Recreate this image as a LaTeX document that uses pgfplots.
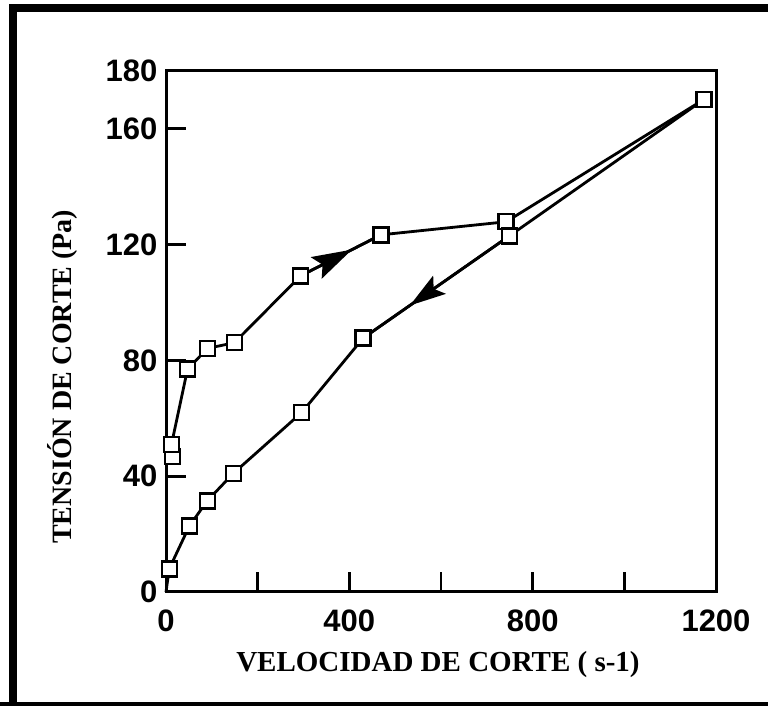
\documentclass[border=0pt]{standalone}
\usepackage{fontspec}
\setmainfont{Liberation Serif}
\newfontfamily\tickfont{Liberation Sans}
\usepackage{pgfplots}
\pgfplotsset{compat=1.18}
\usetikzlibrary{arrows.meta,decorations.markings}
\begin{document}
\begin{tikzpicture}
\begin{axis}[
  at={(166pt,114pt)}, anchor=south west,
  scale only axis, width=550pt, height=521pt,
  xmin=0, xmax=1200, ymin=0, ymax=180,
  axis line style={line width=3pt},
  every tick/.style={black, line width=2.8pt},
  major tick length=20pt,
  tick align=inside,
  xtick pos=bottom, ytick pos=left,
  xtick={0,200,...,1200},
  xticklabels={0,,400,,800,,1200},
  ytick={0,40,80,120,160,180},
  /pgf/number format/assume math mode=true,
  tick label style={font=\tickfont\bfseries\fontsize{31}{33}\selectfont},
  xticklabel style={yshift=-14pt},
  yticklabel style={xshift=-5pt},
  xlabel={VELOCIDAD DE CORTE ( s-1)},
  ylabel={TENSIÓN DE CORTE (Pa)},
  every axis x label/.style={at={(axis description cs:0.4945,-0.140)}, anchor=center,
     font=\bfseries\fontsize{29}{31}\selectfont},
  every axis y label/.style={at={(axis description cs:-0.189,0.413)}, anchor=center, rotate=90,
     font=\bfseries\fontsize{28}{30}\selectfont},
  clip=false,
]
% segment arrows (drawn first, under the marks)
\addplot[black, line width=2.8pt, no marks, postaction={decorate},
  decoration={markings, mark=at position 0.64 with {\arrow{Stealth[length=40pt,width=24pt,inset=7pt]}}}]
  coordinates {(293.5,109.2) (469,123.4)};
\addplot[black, line width=2.8pt, no marks, postaction={decorate},
  decoration={markings, mark=at position 0.68 with {\arrow{Stealth[length=36pt,width=22pt,inset=7pt]}}}]
  coordinates {(749,123) (430,87.7)};
\addplot[black, line width=2.8pt, no marks] coordinates {(7,8) (0,0)};
% increasing shear rate
\addplot[black, line width=2.8pt, mark=square*, mark size=7.5pt,
  mark options={fill=white, line width=2.4pt, solid}]
  coordinates {
  (14,46.8) (12,51) (47,77) (91,84.2) (149,86.1) (293.5,109.2)
  (469,123.4) (742,127.9) (1174,170.2)};
% decreasing shear rate
\addplot[black, line width=2.8pt, mark=square*, mark size=7.5pt,
  mark options={fill=white, line width=2.4pt, solid}]
  coordinates {
  (1174,170.2) (749,123) (430,87.7) (296,62) (147,41)
  (90,31.5) (51,22.8) (7,8)};
\end{axis}
\draw[line width=8pt] (13pt,-10pt) -- (13pt,698pt) -- (790pt,698pt);
\draw[line width=8pt] (0pt,0pt) -- (790pt,0pt);
\pgfresetboundingbox
\path[use as bounding box] (0,0) rectangle (768pt,706pt);
\end{tikzpicture}
\end{document}
